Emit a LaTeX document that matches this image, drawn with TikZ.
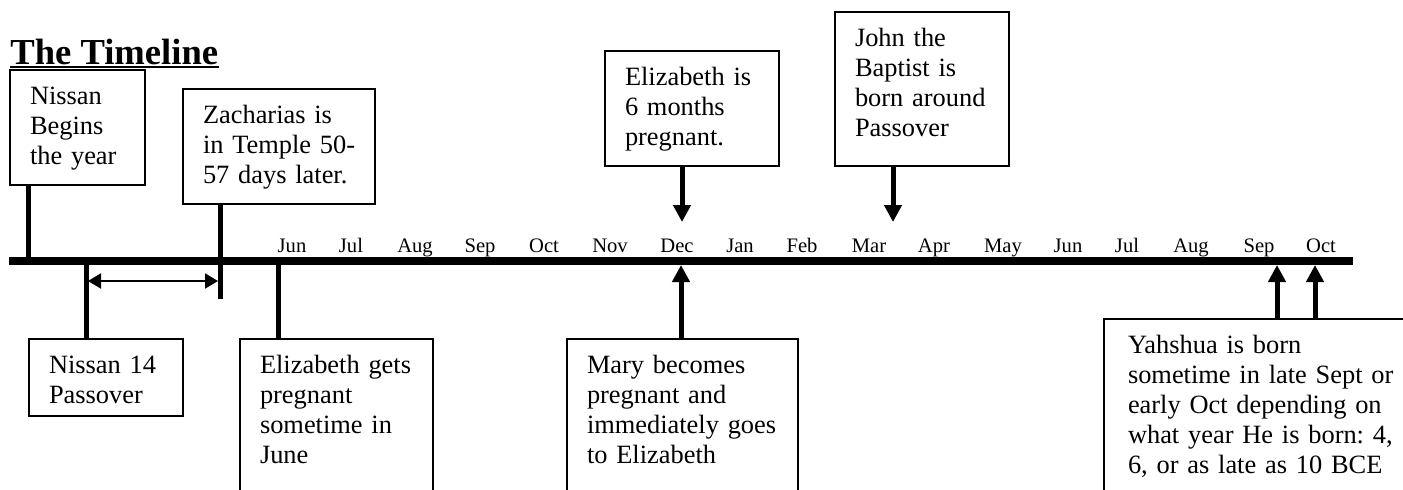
\documentclass[tikz,border=0pt]{standalone}
\usepackage{fontspec}
\setmainfont{Liberation Serif}
\usetikzlibrary{arrows.meta}
\frenchspacing

\begin{document}
\begin{tikzpicture}[x=0.5pt,y=-0.5pt,
  every node/.style={font=\fontsize{13.2}{15}\selectfont},
  evbox/.style={rectangle,draw,line width=1pt,anchor=north west,align=left,
               inner xsep=10pt,inner ysep=8.3pt,text height=9pt},
  month/.style={font=\fontsize{10.3}{12}\selectfont,anchor=base,inner sep=0pt},
  ttl/.style={font=\fontsize{18.3}{22}\selectfont\bfseries,anchor=base west,inner sep=0pt},
  tline/.style={line width=4pt},
  stem/.style={line width=2.5pt},
  arr/.style={stem,-{Triangle[length=8.5pt,width=8.5pt]}},
  span/.style={line width=1pt,{Triangle[length=6.5pt,width=7.5pt]}-{Triangle[length=6.5pt,width=7.5pt]}},
]
\useasboundingbox (0,0) rectangle (1403,489);

\node[ttl] (title) at (10,64) {The Timeline};
\draw[line width=1pt] ([yshift=-1.25pt]title.base west) -- ([yshift=-1.25pt]title.base east);

% events above and below the line
\node[evbox,text width=47.5pt,text depth=31.9pt] (nbeg) at (9,69) {Nissan\\Begins\\the year};
\node[evbox,text width=76pt,text depth=31.9pt] (zach) at (182,88) {Zacharias is\\\mbox{in Temple 50-}\\57 days later.};
\node[evbox,text width=57pt,text depth=12.9pt] (pass) at (28,338) {Nissan 14\\Passover};
\node[evbox,text width=76.5pt,text depth=100pt] (epreg) at (239,338) {Elizabeth gets\\pregnant\\sometime in\\June};
\node[evbox,text width=67pt,text depth=31.9pt] (esix) at (604,50) {Elizabeth is\\6 months\\pregnant.};
\node[evbox,text width=67pt,text depth=51.4pt] (john) at (834,11) {John the\\Baptist is\\born around\\Passover};
\node[evbox,text width=95.5pt,text depth=100pt] (mary) at (566,338) {Mary becomes\\pregnant and\\immediately goes\\to Elizabeth};
\node[evbox,text width=135pt,inner xsep=12pt,text depth=100pt] (yah) at (1103,318) {Yahshua is born\\sometime in late Sept or\\early Oct depending on\\what year He is born: 4,\\6, or as late as 10 BCE};

% the time line
\coordinate (tl) at (9,261);
\coordinate (tr) at (1353,261);
\draw[tline] (tl) -- (tr);

\foreach \m/\x [count=\i] in {Jun/292,Jul/351,Aug/415,Sep/480,Oct/544,Nov/610,Dec/677,Jan/740,Feb/802,
    Mar/869,Apr/934,May/1003,Jun/1068,Jul/1127,Aug/1191,Sep/1259,Oct/1321}
  \node[month] (m\i) at (\x,252) {\m};

\coordinate (t1) at (28,261);
\coordinate (t2) at (220,299);
\coordinate (t3) at (86,261);
\coordinate (t4) at (278,261);
\draw[stem] (nbeg.south -| t1) -- (t1);
\draw[stem] (zach.south -| t2) -- (t2);
\draw[stem] (t3) -- (pass.north -| t3);
\draw[stem] (t4) -- (epreg.north -| t4);

\coordinate (sa) at (88,281);
\coordinate (sb) at (218,281);
\draw[span] (sa) -- (sb);

\coordinate (a5) at (682,222);
\coordinate (a6) at (893,222);
\coordinate (a7) at (681,265);
\coordinate (a8) at (1277,265);
\coordinate (a9) at (1315,265);
\draw[arr] (esix.south -| a5) -- (a5);
\draw[arr] (john.south -| a6) -- (a6);
\draw[arr] (mary.north -| a7) -- (a7);
\draw[arr] (yah.north -| a8) -- (a8);
\draw[arr] (yah.north -| a9) -- (a9);
\end{tikzpicture}
\end{document}
